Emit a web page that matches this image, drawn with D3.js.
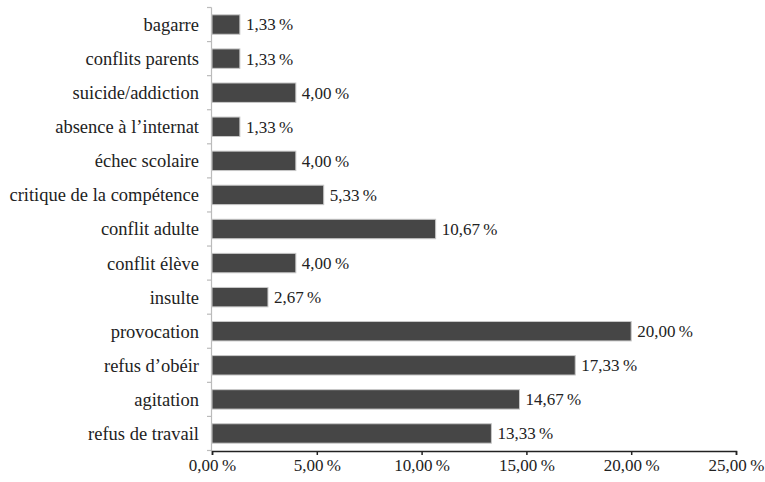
<!DOCTYPE html>
<html>
<head>
<meta charset="utf-8">
<script src="https://cdn.jsdelivr.net/npm/d3@7"></script>
<style>
  body { margin: 0; background: #fff; }
  text { font-family: "Liberation Serif", "DejaVu Serif", serif; fill: #222; }
</style>
</head>
<body>
<svg id="chart" width="765" height="482"></svg>
<script>
// categories, top to bottom
var categories = [
  "bagarre", "conflits parents", "suicide/addiction", "absence à l’internat",
  "échec scolaire", "critique de la compétence", "conflit adulte", "conflit élève",
  "insulte", "provocation", "refus d’obéir", "agitation", "refus de travail"
];
var values = [1.33, 1.33, 4.00, 1.33, 4.00, 5.33, 10.67, 4.00, 2.67, 20.00, 17.33, 14.67, 13.33];
var xTicks = [0, 5, 10, 15, 20, 25];

var fmt = function (v) { return v.toFixed(2).replace(".", ",") + "\u2009%"; };

var svg = d3.select("#chart");

var x = d3.scaleLinear().domain([0, 25]).range([212, 736]);
var y = d3.scaleBand().domain(categories).range([7.5, 450.5]).paddingInner(0.43).paddingOuter(0.215);

// y axis line and ticks between bands
var step = y.step();
svg.append("line")
  .attr("x1", 211.5).attr("x2", 211.5)
  .attr("y1", 7.5).attr("y2", 451)
  .attr("stroke", "#bbb").attr("stroke-width", 1.2);

svg.append("g")
  .selectAll("line")
  .data(d3.range(categories.length + 1))
  .join("line")
  .attr("x1", 207).attr("x2", 211.5)
  .attr("y1", function (i) { return 7.5 + i * step; })
  .attr("y2", function (i) { return 7.5 + i * step; })
  .attr("stroke", "#bbb").attr("stroke-width", 1.2);

// bars
svg.append("g")
  .selectAll("rect")
  .data(values)
  .join("rect")
  .attr("x", x(0))
  .attr("y", function (d, i) { return y(categories[i]); })
  .attr("width", function (d) { return x(d) - x(0); })
  .attr("height", y.bandwidth())
  .attr("fill", "#464646")
  .attr("stroke", "#c8c8c8")
  .attr("stroke-width", 1);

// value labels
svg.append("g")
  .selectAll("text")
  .data(values)
  .join("text")
  .attr("x", function (d) { return x(d) + 6; })
  .attr("y", function (d, i) { return y(categories[i]) + y.bandwidth() / 2; })
  .attr("dy", "0.35em")
  .attr("font-size", 17)
  .text(fmt);

// category labels
svg.append("g")
  .selectAll("text")
  .data(categories)
  .join("text")
  .attr("x", 199)
  .attr("y", function (d) { return y(d) + y.bandwidth() / 2; })
  .attr("dy", "0.35em")
  .attr("text-anchor", "end")
  .attr("font-size", 18.5)
  .text(function (d) { return d; });

// x axis
var xAxis = svg.append("g")
  .attr("transform", "translate(0,451)")
  .call(d3.axisBottom(x).tickValues(xTicks).tickSize(4).tickFormat(fmt));
xAxis.select(".domain").attr("stroke", "#222").attr("stroke-width", 1.5);
xAxis.selectAll(".tick line").attr("stroke", "#222").attr("stroke-width", 1.5);
xAxis.selectAll(".tick text")
  .attr("font-size", 17)
  .attr("font-family", "Liberation Serif, DejaVu Serif, serif")
  .attr("fill", "#222")
  .attr("dy", "0.75em");
</script>
</body>
</html>
